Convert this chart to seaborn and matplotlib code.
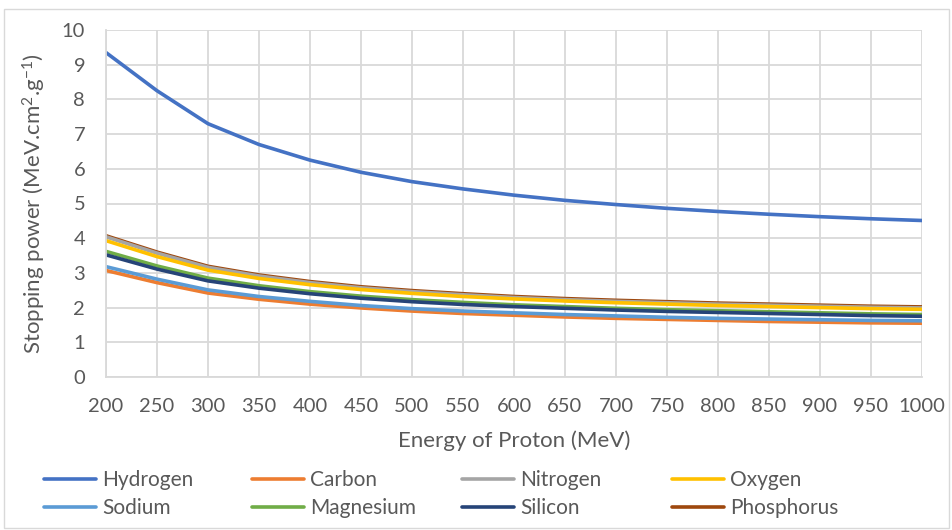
import matplotlib
matplotlib.use("Agg")
import matplotlib.pyplot as plt
import seaborn as sns
import pandas as pd
from matplotlib.patches import Rectangle

# Proton energies (MeV) and stopping power values
energy = [200, 250, 300, 350, 400, 450, 500, 550, 600, 650, 700, 750, 800, 850, 900, 950, 1000]

hydrogen = [9.35, 8.25, 7.30, 6.70, 6.25, 5.90, 5.63, 5.42, 5.24, 5.09, 4.97, 4.86, 4.77, 4.69, 4.62, 4.56, 4.51]
carbon = [3.07, 2.72, 2.42, 2.24, 2.10, 1.99, 1.90, 1.83, 1.78, 1.73, 1.69, 1.66, 1.63, 1.60, 1.58, 1.56, 1.55]
nitrogen = [4.04, 3.57, 3.16, 2.91, 2.72, 2.57, 2.46, 2.37, 2.29, 2.23, 2.18, 2.14, 2.10, 2.07, 2.04, 2.01, 1.99]
oxygen = [3.93, 3.47, 3.08, 2.84, 2.66, 2.52, 2.41, 2.32, 2.25, 2.19, 2.14, 2.10, 2.06, 2.03, 2.00, 1.97, 1.95]
sodium = [3.18, 2.82, 2.51, 2.32, 2.18, 2.06, 1.97, 1.90, 1.85, 1.80, 1.76, 1.72, 1.69, 1.67, 1.65, 1.63, 1.62]
magnesium = [3.62, 3.20, 2.85, 2.63, 2.46, 2.33, 2.23, 2.15, 2.08, 2.03, 1.98, 1.94, 1.91, 1.88, 1.85, 1.82, 1.80]
silicon = [3.52, 3.11, 2.77, 2.56, 2.40, 2.27, 2.17, 2.09, 2.03, 1.98, 1.93, 1.89, 1.86, 1.83, 1.80, 1.77, 1.75]
phosphorus = [4.07, 3.60, 3.19, 2.94, 2.75, 2.60, 2.49, 2.40, 2.32, 2.26, 2.21, 2.17, 2.13, 2.10, 2.07, 2.04, 2.02]

elements = ["Hydrogen", "Carbon", "Nitrogen", "Oxygen", "Sodium", "Magnesium", "Silicon", "Phosphorus"]
series = [hydrogen, carbon, nitrogen, oxygen, sodium, magnesium, silicon, phosphorus]
colors = ["#4472C4", "#ED7D31", "#A5A5A5", "#FFC000", "#5B9BD5", "#70AD47", "#264478", "#9E480E"]

df = pd.DataFrame({name: vals for name, vals in zip(elements, series)})
df["Energy"] = energy
long_df = df.melt(id_vars="Energy", var_name="Element", value_name="Stopping")

sns.set_theme(style="white")
plt.rcParams["font.family"] = ["Lato", "DejaVu Sans"]
plt.rcParams["mathtext.fontset"] = "custom"
plt.rcParams["mathtext.rm"] = "Lato"
plt.rcParams["mathtext.it"] = "Lato"

text_color = "#595959"
grid_color = "#D9D9D9"

fig = plt.figure(figsize=(9.53, 5.30), dpi=100)
ax = fig.add_axes([106 / 953, 1 - 377 / 530, 816 / 953, 347 / 530])

sns.lineplot(data=long_df, x="Energy", y="Stopping", hue="Element",
             hue_order=elements, palette=colors, linewidth=2.6, sort=False,
             ax=ax, legend=True)

# phosphorus sits just under the nitrogen line in the original
ax.lines[elements.index("Phosphorus")].set_zorder(1.9)

ax.set_xlim(200, 1000)
ax.set_ylim(0, 10)
ax.set_xticks(energy)
ax.set_yticks(range(0, 11))
ax.grid(True, color=grid_color, linewidth=1.3)
ax.set_axisbelow(True)
for s in ["top", "right"]:
    ax.spines[s].set_visible(False)
for s in ["left", "bottom"]:
    ax.spines[s].set_color(grid_color)
    ax.spines[s].set_linewidth(1.3)

ax.tick_params(axis="x", length=0, pad=15, labelsize=14.5, labelcolor=text_color)
ax.tick_params(axis="y", length=0, pad=15, labelsize=14.5, labelcolor=text_color)

ax.set_xlabel("Energy of Proton (MeV)", fontsize=16, color=text_color, labelpad=11)
ax.set_ylabel("Stopping power (MeV.cm$^{2}$.g$^{-1}$)", fontsize=16, color=text_color, labelpad=10)

handles, labels = ax.get_legend_handles_labels()
ax.legend_.remove()

# Excel-style legend: 4 equal-width columns, filled row by row
col_x = [44, 252, 462, 672]
for i, x0 in enumerate(col_x):
    idx = [i, i + 4]
    leg = fig.legend([handles[j] for j in idx], [labels[j] for j in idx],
                     loc="center left", bbox_to_anchor=(x0 / 953, 1 - 494 / 530),
                     frameon=False, fontsize=15, handlelength=2.5, handletextpad=0.3,
                     labelcolor=text_color, borderpad=0, borderaxespad=0,
                     labelspacing=0.4)
    for line in leg.get_lines():
        line.set_linewidth(2.6)

# light chart-area border like the original
fig.patches.append(Rectangle((4 / 953, 2 / 530), 945 / 953, 519 / 530,
                             transform=fig.transFigure, fill=False,
                             edgecolor=grid_color, linewidth=1.0))

fig.savefig("out.png", dpi=100, facecolor="white")
